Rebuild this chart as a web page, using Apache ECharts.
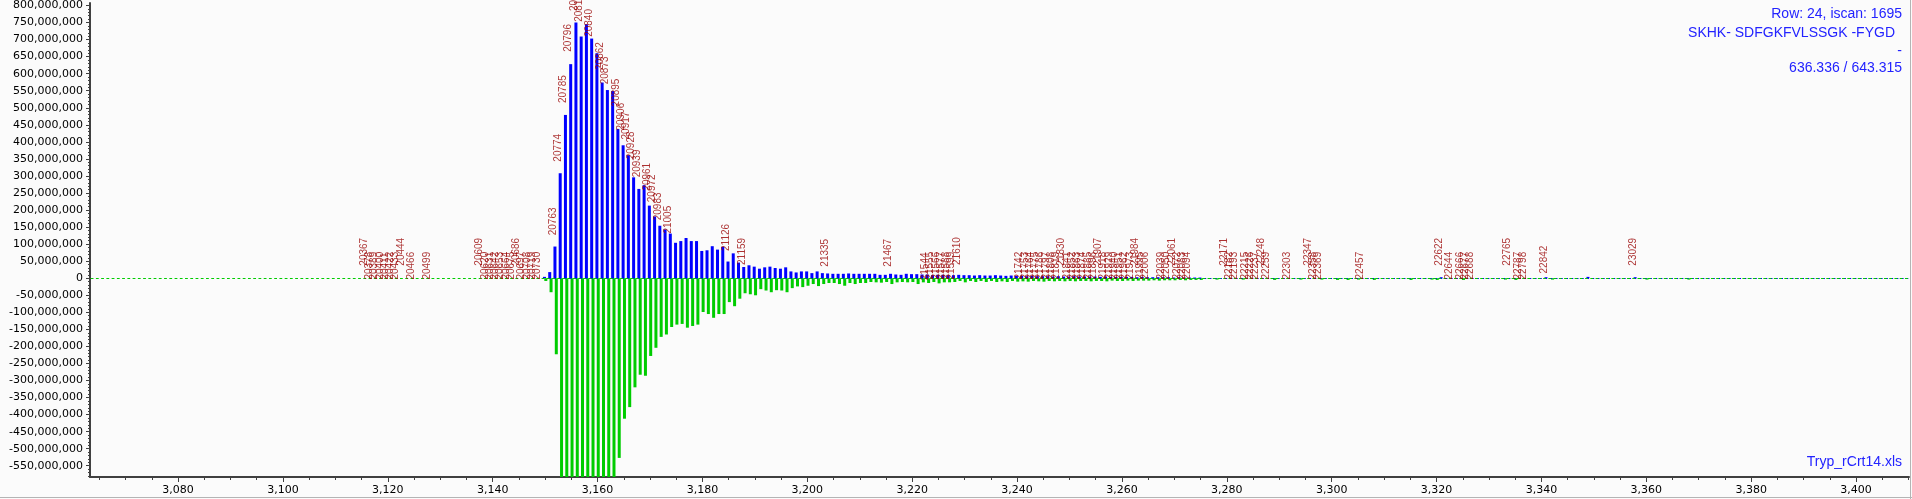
<!DOCTYPE html>
<html><head><meta charset="utf-8">
<script src="https://cdn.jsdelivr.net/npm/echarts@6/dist/echarts.min.js"></script>
<style>html,body{margin:0;padding:0;background:#fbfbfb;}#c{width:1912px;height:499px;}</style>
</head><body><div id="c"></div>
<script>
// ---- data (values in millions) ----
const firstPosition = 3150;
const blueValues = [
  4, 18, 93, 308, 479, 628, 750, 709, 745, 703,
  660, 574, 552, 549, 438, 390, 361, 296, 262, 273,
  213, 181, 154, 143, 131, 104, 109, 118, 109, 109,
  80, 82, 94, 84, 92, 49, 73, 46, 33, 38,
  34, 28, 32, 34, 30, 28, 32, 20, 17, 20,
  20, 15, 20, 15, 14, 13, 13, 13, 14, 13,
  13, 13, 13, 13, 10, 10, 13, 11, 10, 13,
  12, 12, 11, 11, 9, 10, 10, 9, 9, 10,
  9, 9, 8, 9, 8, 8, 9, 8, 7, 8,
  7, 7, 6, 7, 6, 6, 6, 5, 6, 5,
  5, 6, 5, 5, 5, 5, 4, 5, 4, 4,
  4, 4, 4, 3, 4, 3, 3, 3, 3, 3,
  2, 3, 2, 2, 2, 2
];
const greenValues = [
  -8, -41, -223, -640, -700, -730, -760, -740, -720, -700,
  -680, -650, -630, -600, -527, -412, -378, -320, -283, -286,
  -228, -204, -172, -165, -143, -136, -134, -145, -140, -136,
  -99, -105, -116, -105, -105, -70, -82, -60, -44, -47,
  -50, -32, -36, -41, -35, -36, -41, -29, -24, -26,
  -22, -17, -23, -17, -14, -14, -17, -22, -14, -17,
  -14, -14, -11, -12, -13, -11, -17, -12, -11, -12,
  -11, -17, -12, -14, -11, -15, -12, -12, -11, -8,
  -12, -8, -11, -8, -11, -8, -11, -9, -11, -8,
  -10, -9, -10, -8, -9, -10, -8, -9, -8, -9,
  -8, -9, -8, -8, -9, -8, -8, -9, -7, -8,
  -8, -7, -8, -7, -7, -7, -6, -7, -6, -6,
  -6, -5, -6, -5, -5, -5
];
const extraGreenPositions = [3278, 3283, 3289, 3294, 3298, 3301, 3303, 3305, 3308, 3315, 3319, 3320, 3325, 3333, 3335, 3342, 3360, 3368];
const extraGreenValues    = [-4, -4, -5, -4, -4, -5, -5, -4, -5, -5, -4, -5, -5, -4, -5, -4, -4, -4];
const extraBluePositions = [3321, 3341, 3349, 3358];
const extraBlueValues    = [3, 3, 4, 3];

const labelTexts = [
  '20367','20378','20389','20400','20411','20422','20433','20444','20466','20499',
  '20609','20620','20631','20642','20653','20664','20675','20686','20697','20708','20719','20730',
  '20763','20774','20785','20796','20807','20818','20840','20862','20873','20895',
  '20906','20917','20928','20939','20961','20972','20983','21005','21126','21159',
  '21335','21467','21544','21555','21566','21577','21588','21599','21610',
  '21742','21753','21764','21775','21786','21797','21808','21819','21830',
  '21841','21852','21863','21874','21885','21896','21907',
  '21918','21929','21940','21951','21962','21973','21984','21995','22006',
  '22039','22050','22061','22072','22083','22094',
  '22171','22182','22193','22215','22226','22237','22248','22259','22303',
  '22347','22358','22369','22457','22622','22644','22666','22677','22688',
  '22765','22787','22798','22842','23029'
];
const labelPositions = [
  3115.5,3116.5,3117.5,3118.5,3119.5,3120.5,3121.5,3122.5,3124.5,3127.5,
  3137.5,3138.5,3139.5,3140.5,3141.5,3142.5,3143.5,3144.5,3145.5,3146.5,3147.5,3148.5,
  3151.5,3152.5,3153.5,3154.5,3155.5,3156.5,3158.5,3160.5,3161.5,3163.5,
  3164.5,3165.5,3166.5,3167.5,3169.5,3170.5,3171.5,3173.5,3184.5,3187.5,
  3203.5,3215.5,3222.5,3223.5,3224.5,3225.5,3226.5,3227.5,3228.5,
  3240.5,3241.5,3242.5,3243.5,3244.5,3245.5,3246.5,3247.5,3248.5,
  3249.5,3250.5,3251.5,3252.5,3253.5,3254.5,3255.5,
  3256.5,3257.5,3258.5,3259.5,3260.5,3261.5,3262.5,3263.5,3264.5,
  3267.5,3268.5,3269.5,3270.5,3271.5,3272.5,
  3279.5,3280.5,3281.5,3283.5,3284.5,3285.5,3286.5,3287.5,3291.5,
  3295.5,3296.5,3297.5,3305.5,3320.5,3322.5,3324.5,3325.5,3326.5,
  3333.5,3335.5,3336.5,3340.5,3357.5
];
const labelBottoms = [
  37,-4,-4,-4,-4,-4,-4,37,-4,-4,
  37,-4,-4,-4,-4,-4,-4,37,-4,-4,-4,-4,
  126,342,514,664,784,752,708,611,569,504,
  433,407,349,296,257,223,170,131,80,39,
  34,34,-6,-4,-4,-4,-4,-4,39,
  -4,-4,-4,-4,-4,-4,-4,-4,37,
  -4,-4,-4,-4,-4,-4,37,
  -4,-4,-4,-4,-4,-4,37,-4,-4,
  -4,-4,37,-4,-4,-4,
  37,-4,-4,-4,-4,-4,37,-4,-4,
  37,-4,-4,-4,37,-4,-4,-4,-4,
  37,-4,-4,14,37
];
const xTickLabels = [3080,3100,3120,3140,3160,3180,3200,3220,3240,3260,3280,3300,3320,3340,3360,3380,3400];
const yTickLabels = [-550,-500,-450,-400,-350,-300,-250,-200,-150,-100,-50,0,50,100,150,200,250,300,350,400,450,500,550,600,650,700,750,800];

// ---- build ----
const M = 1e6;
const xMin = 3063.2, xMax = 3410.1, yMin = -583 * M, yMax = 807 * M;
const fmt = v => { const a = Math.round(Math.abs(v)).toString().replace(/\B(?=(\d{3})+(?!\d))/g, ','); return (v < 0 ? '-' : '') + a; };
const blueData = blueValues.map((v, i) => [firstPosition + i, v * M]).concat(extraBluePositions.map((p, i) => [p, extraBlueValues[i] * M]));
const greenData = greenValues.map((v, i) => [firstPosition + i, v * M]).concat(extraGreenPositions.map((p, i) => [p, extraGreenValues[i] * M]));
const labelData = labelTexts.map((t, i) => [labelPositions[i], labelBottoms[i] * M, t]);
const xMinor = []; for (let v = 3065; v <= 3410; v += 5) xMinor.push(v);
const yMinor = []; for (let v = -580; v <= 800; v += 10) yMinor.push(v * M);
const yMajor = yTickLabels.map(v => v * M);
const axisFont = { fontFamily: 'DejaVu Sans', fontSize: 11, color: '#000' };
const axisColor = '#404040';
const period = 1819 / (xMax - xMin);
const dashA = 2.8, dashB = period - 2.8;
const txt = { fontFamily: 'Liberation Sans', fontSize: 14, fontWeight: 'normal', color: '#2323ff', lineHeight: 14 };

const chart = echarts.init(document.getElementById('c'), null, { renderer: 'canvas' });
chart.setOption({
  backgroundColor: '#fbfbfb',
  animation: false,
  title: [
    { text: 'Row: 24, iscan: 1695', right: 10, top: 7, padding: 0, textStyle: txt },
    { text: 'SKHK- SDFGKFVLSSGK -FYGD', right: 17, top: 26, padding: 0, textStyle: txt },
    { text: '-', right: 10, top: 44, padding: 0, textStyle: txt },
    { text: '636.336 / 643.315', right: 10, top: 61, padding: 0, textStyle: txt },
    { text: 'Tryp_rCrt14.xls', right: 10, top: 455, padding: 0, textStyle: txt }
  ],
  grid: { left: 90, right: 3, top: 0, bottom: 22, containLabel: false },
  xAxis: [
    { type: 'value', min: xMin, max: xMax, position: 'bottom',
      axisLine: { show: true, onZero: false, lineStyle: { color: axisColor, width: 2 } },
      axisTick: { show: true, customValues: xMinor, length: 3, lineStyle: { color: axisColor } },
      axisLabel: { show: true, customValues: xTickLabels, formatter: fmt, margin: 8, ...axisFont },
      splitLine: { show: false } },
    { type: 'value', min: xMin, max: xMax, position: 'bottom', offset: 0,
      axisLine: { show: false, onZero: false },
      axisTick: { show: true, customValues: xTickLabels, length: 5, lineStyle: { color: axisColor } },
      axisLabel: { show: false }, splitLine: { show: false } }
  ],
  yAxis: [
    { type: 'value', min: yMin, max: yMax, position: 'left',
      axisLine: { show: true, onZero: false, lineStyle: { color: axisColor, width: 2 } },
      axisTick: { show: true, customValues: yMajor, length: 4, lineStyle: { color: axisColor } },
      axisLabel: { show: true, customValues: yMajor, formatter: fmt, margin: 7, ...axisFont },
      splitLine: { show: false } },
    { type: 'value', min: yMin, max: yMax, position: 'left', offset: 0,
      axisLine: { show: false, onZero: false },
      axisTick: { show: true, customValues: yMinor, length: 2, lineStyle: { color: axisColor } },
      axisLabel: { show: false }, splitLine: { show: false } }
  ],
  series: [
    { type: 'bar', name: 'blue', xAxisIndex: 0, yAxisIndex: 0, data: blueData, barWidth: 3, barGap: '-55%',
      clip: true, silent: true, itemStyle: { color: '#0000ff' },
      markLine: { silent: true, symbol: ['none', 'none'], label: { show: false }, animation: false,
        lineStyle: { color: '#0000ff', width: 1, type: [dashB, dashA], dashOffset: dashB },
        data: [[{ coord: [xMin + 87, 0] }, { coord: [xMax, 0] }]] } },
    { type: 'bar', name: 'green', xAxisIndex: 0, yAxisIndex: 0, data: greenData, barWidth: 3, barGap: '-55%',
      clip: true, silent: true, itemStyle: { color: '#00cc00' },
      markLine: { silent: true, symbol: ['none', 'none'], label: { show: false }, animation: false,
        lineStyle: { color: '#00cc00', width: 1, type: [dashA, dashB] },
        data: [[{ coord: [xMin, 0] }, { coord: [xMax, 0] }]] } },
    { type: 'scatter', name: 'labels', xAxisIndex: 0, yAxisIndex: 0, data: labelData, symbolSize: 0,
      silent: true, clip: false, z: 5,
      label: { show: true, position: 'inside', rotate: 90, align: 'left', verticalAlign: 'middle',
        formatter: p => p.data[2], color: '#990000', fontFamily: 'Liberation Sans', fontSize: 10 } }
  ],
  graphic: [
    { type: 'line', shape: { x1: 1910.5, y1: 0, x2: 1910.5, y2: 499 }, style: { stroke: '#b4b4b4', lineWidth: 1 }, silent: true },
    { type: 'line', shape: { x1: 0, y1: 497.5, x2: 1912, y2: 497.5 }, style: { stroke: '#b4b4b4', lineWidth: 1 }, silent: true }
  ]
});
</script></body></html>
